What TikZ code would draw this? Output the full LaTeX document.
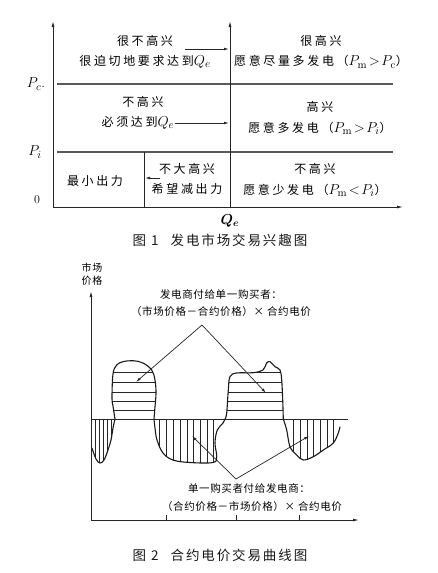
\documentclass[tikz,border=0pt]{standalone}
\usepackage{amsmath}
\usepackage{fontspec}
\usetikzlibrary{arrows.meta}
\newfontfamily\cjkw[LetterSpace=22]{Noto Sans CJK SC}
\newfontfamily\cjkn[LetterSpace=6]{Noto Sans CJK SC}
\newfontfamily\cjkc[LetterSpace=14]{Noto Sans CJK SC}
\newcommand\mth[1]{{\fontsize{15.5}{16}\selectfont$#1$}}
\begin{document}
\begin{tikzpicture}[x=1pt,y=-1pt,
  ink/.style={draw=black!85},
  axis/.style={draw=black!85, line width=0.9pt, -{Latex[length=6pt,width=3pt]}},
  divline/.style={draw=black!65, line width=1.1pt},
  ptr/.style={draw=black!85, line width=0.7pt, -{Latex[length=5pt,width=2.6pt]}},
  t1/.style={inner sep=0pt, text=black, font=\fontsize{12}{14}\cjkw},
  t2/.style={inner sep=0pt, text=black, font=\fontsize{10.5}{12.5}\cjkn, align=center},
  figcap/.style={inner sep=0pt, text=black!90, font=\fontsize{13.5}{15}\cjkc},
  mlab/.style={inner sep=0pt, text=black, font=\fontsize{15}{16}\selectfont},
  curve/.style={draw=black!90, line width=1.1pt},
  hatch/.style={draw=black!85, line width=0.65pt}]
\useasboundingbox (0,0) rectangle (437,573);
\fill[white] (0,0) rectangle (437,573);

% ---------- Figure 1 ----------
\coordinate (O1) at (53,207);
\coordinate (Ytop) at (53,21);
\coordinate (Qb) at (230,207);
\coordinate (Qt) at (230,21);
\coordinate (Xend) at (403,207);
\coordinate (PcL) at (57,84);  \coordinate (PcR) at (393,84);
\coordinate (PiL) at (57,152); \coordinate (PiR) at (393,152);
\coordinate (Dt) at (144,152); \coordinate (Db) at (144,207);

\draw[divline] (PcL) -- (PcR);
\draw[divline] (PiL) -- (PiR);
\draw[ink, line width=0.9pt] (Dt) -- (Db);
\draw[axis] (O1) -- (Ytop);
\draw[axis] (Qb) -- (Qt);
\draw[axis] (O1) -- (Xend);

\node[mlab] (lPc) at (36,84) {$P_{c}$.};
\node[mlab] (lPi) at (35,152) {$P_{i}$};
\node[mlab, font=\fontsize{12}{13}\selectfont] (l0) at (37,200) {0};
\node[mlab, font=\fontsize{14}{15}\selectfont] (lQe) at (230,221) {$\boldsymbol{Q_e}$};

\node[t1] (t1a) at (145,41) {很不高兴};
\node[t1] (t1b) at (145,62) {很迫切地要求达到\mth{Q_e}};
\node[t1] (t2a) at (321,41) {很高兴};
\node[t1] (t2b) at (321,62) {愿意尽量多发电（\mth{P_{\mathrm{m}}\!>\!P_{\mathrm{c}}}）};
\node[t1] (t3a) at (143,102) {不高兴};
\node[t1] (t3b) at (138,123) {必须达到\mth{Q_e}};
\node[t1] (t4a) at (320,107) {高兴};
\node[t1] (t4b) at (320,128) {愿意多发电（\mth{P_{\mathrm{m}}\!>\!P_{i}}）};
\node[t1] (t5) at (95,181) {最小出力};
\node[t1] (t6a) at (187,169) {不大高兴};
\node[t1] (t6b) at (187,189) {希望减出力};
\node[t1] (t7a) at (315,169) {不高兴};
\node[t1] (t7b) at (315,190) {愿意少发电（\mth{P_{\mathrm{m}}\!<\!P_{i}}）};

\coordinate (a1s) at (185,49); \coordinate (a1e) at (229,49);
\coordinate (a2e) at (229,123);
\coordinate (a3s) at (160,178); \coordinate (a3e) at (145,178);
\draw[ptr] (a1s) -- (a1e);
\draw[ptr] (t3b.east) -- (a2e);
\draw[ptr] (a3s) -- (a3e);

\node[figcap] (cap1) at (220,240) {图 1\hspace{12pt}发电市场交易兴趣图};

% ---------- Figure 2 ----------
\coordinate (O2) at (91,520);
\coordinate (Y2) at (91,291);
\coordinate (X2) at (359,520);
\coordinate (B0) at (91,419);
\coordinate (B1) at (348,419);

\def\lobeA{plot[smooth,tension=0.6] coordinates {(92,448) (96,459) (100,463) (104,460) (108,450) (111,440) (113,428) (115,419)}}
\def\lobeB{plot[smooth,tension=0.6] coordinates {(115,419) (113,406) (112,398) (113,374) (116.7,365) (123,361.7) (133,360.7) (143,363) (151.7,370) (155,380) (156,393) (155,406.7) (154,419)}}
\def\lobeC{plot[smooth,tension=0.6] coordinates {(154,419) (155,428) (157,440) (163,453) (173,460) (190,462.5) (213,462.5) (216.7,456.7) (215,443) (217.3,430) (223,423) (225,419)}}
\def\lobeD{plot[smooth,tension=0.6] coordinates {(225,419) (226.7,413) (228.3,390) (230,376.7) (236.7,373) (253,372.7) (263,370) (266.7,363) (270,361.7) (275,366.7) (280,370) (281.7,380) (282.7,400) (283.3,419)}}
\def\lobeE{plot[smooth,tension=0.6] coordinates {(283.3,419) (286.7,430) (290,446.7) (296.7,455) (303.3,460) (313.3,456.7) (323.3,450) (333.3,443) (338.3,433) (340,426.7)}}

\begin{scope}
  \clip \lobeA -- (91,419) -- cycle;
  \foreach \x in {95,99,103,107,111} \draw[hatch] (\x,415) -- (\x,470);
\end{scope}
\begin{scope}
  \clip \lobeB -- cycle;
  \foreach \y in {372,382,392,401,410} \draw[hatch] (105,\y) -- (165,\y);
\end{scope}
\begin{scope}
  \clip \lobeC -- cycle;
  \foreach \x in {159,166,173,180,187,193,200,207,213} \draw[hatch] (\x,415) -- (\x,470);
\end{scope}
\begin{scope}
  \clip \lobeD -- cycle;
  \foreach \y in {372,382,392,401,410} \draw[hatch] (220,\y) -- (290,\y);
\end{scope}
\begin{scope}
  \clip \lobeE -- (340,419) -- cycle;
  \foreach \x in {293,300,307,313,320,327,333} \draw[hatch] (\x,415) -- (\x,470);
\end{scope}

\draw[curve] \lobeA;
\draw[curve] \lobeB;
\draw[curve] \lobeC;
\draw[curve] \lobeD;
\draw[curve] \lobeE;

\draw[ink, line width=1pt] (B0) -- (B1);
\draw[axis] (O2) -- (Y2);
\draw[axis] (O2) -- (X2);
\foreach \x/\n in {166/k1,236/k2,299/k3} {
  \coordinate (\n b) at (\x,520); \coordinate (\n t) at (\x,515);
  \draw[ink, line width=0.8pt] (\n b) -- (\n t);
}

\node[t2, font=\fontsize{10}{13}\cjkn] (ylab) at (92,274.5) {市场\\价格};
\node[t2] (top1) at (221,295) {发电商付给单一购买者：};
\node[t2] (top2) at (221,312) {（市场价格－合约价格）× 合约电价};
\node[t2] (bot1) at (249,488) {单一购买者付给发电商：};
\node[t2] (bot2) at (252,507) {（合约价格－市场价格）× 合约电价};

\coordinate (apexU) at (202,325);
\coordinate (hU1) at (136,382);
\coordinate (hU2) at (266,393);
\coordinate (apexL) at (236,479);
\coordinate (hL1) at (192,436);
\coordinate (hL2) at (309,436);
\draw[ptr] (apexU) -- (hU1);
\draw[ptr] (apexU) -- (hU2);
\draw[ptr] (apexL) -- (hL1);
\draw[ptr] (apexL) -- (hL2);

\node[figcap] (cap2) at (220,555) {图 2\hspace{12pt}合约电价交易曲线图};
\end{tikzpicture}
\end{document}
